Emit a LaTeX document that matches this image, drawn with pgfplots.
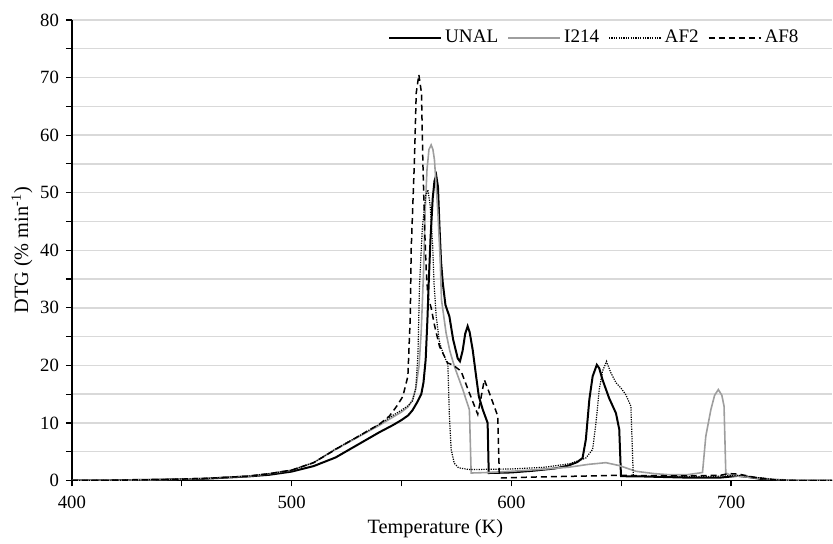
\documentclass[border=0pt]{standalone}
\usepackage{fontspec}
\setmainfont{Liberation Serif}
\usepackage{pgfplots}
\pgfplotsset{compat=1.18}
\usepackage{pgfplotstable}
\definecolor{gridgray}{HTML}{D9D9D9}
\definecolor{seriesgray}{HTML}{9E9E9E}

\pgfplotstableread{
T y
400 0
420 0.05
440 0.15
460 0.3
480 0.7
490 1.0
500 1.55
510 2.5
520 4.0
530 6.2
540 8.4
546 9.6
550 10.5
553 11.3
555 12.2
557 13.5
559 15.0
560 17
561 21
561.8 28
562.4 34.4
563.2 42
564.2 49
565 52
565.8 53
566.6 51
567.3 44
568 38
568.8 34.3
570 30.5
571.8 28.5
573.5 24.5
575.6 21.2
576.6 20.7
577.8 22.5
579 25.5
580.1 26.8
581 25.8
582.4 22.7
584 18
585.2 14.6
587 12.3
589.2 10.0
589.7 1.3
595 1.35
600 1.4
610 1.7
620 2.1
626 2.6
630 3.2
632.4 3.9
633.9 7.1
635.5 14.1
637 18.1
638.9 20.1
640 19.5
641.5 17.5
644.5 14.3
647.6 11.7
649.1 8.9
649.9 0.75
660 0.7
680 0.5
695 0.5
703 0.8
708 0.6
715 0.2
725 0
746 0
}\unal

\pgfplotstableread{
T y
400 0
420 0.05
440 0.15
460 0.35
480 0.75
490 1.2
500 1.8
510 3.1
520 5.4
530 7.5
540 9.6
546 11
550 11.9
553 12.8
555 14
556.5 16
558 20
559 26
560 36
560.8 47
561.6 54
562.5 57.5
563.5 58.3
564.3 57.5
565 55.7
566.5 47
567.6 38.4
568.2 31.4
570.3 25.6
572 22.5
574.1 19.8
577.9 15.8
580.9 12.3
581.7 1.3
590 1.4
600 1.6
612 1.9
626 2.3
635 2.8
643 3.1
649 2.6
656.7 1.6
665 1.2
672 1.0
680 1.0
685.5 1.3
687 1.4
688.5 7.7
690.8 12.3
692.5 14.8
694.2 15.8
695.8 14.8
696.8 12.9
697.6 1.3
700 0.9
705 0.7
710 0.5
720 0.2
730 0
746 0
}\itwo

\pgfplotstableread{
T y
400 0
420 0.05
440 0.15
460 0.35
480 0.75
490 1.2
500 1.8
510 3.1
520 5.5
530 7.6
540 9.8
546 11.3
550 12.2
553 13
555 13.8
556.5 16
557.5 22
558.2 34
559.5 44
561 49.5
562 50.5
563 48
564.2 40.7
564.8 34.3
565.8 28.5
567.3 24
569 22
571.1 20.1
571.8 11.2
572.6 5.4
574 3
576 2.2
580.9 1.9
600 2.0
615 2.3
626.4 2.9
633.9 3.9
637 5.4
638.5 10
640 15.8
641.5 19
643.3 20.7
645.3 18.7
647.6 17
650 16
652.1 14.9
654.4 12.9
655.5 0.75
670 0.7
690 0.7
705 0.9
712 0.5
720 0.15
730 0
746 0
}\aftwo

\pgfplotstableread{
T y
400 0
420 0.05
440 0.15
460 0.35
480 0.75
490 1.2
500 1.8
510 3.1
520 5.4
530 7.6
540 9.8
544.5 11.2
548 13
550.6 14.6
552.9 18.1
554 28.5
554.4 40
555.9 55.7
556.7 67.3
557.9 70.5
559.1 67.3
559.7 55.7
560.5 44
561.2 37
562 32
563.5 30
565 27
567.3 23.3
569.5 21.6
571 20.4
573.3 20.1
577.1 19
580.9 15.2
584.7 11.5
586 14
587.7 17.5
590 15.2
593.8 11.2
594.5 1.3
595.5 0.45
610 0.6
630 0.75
649 0.9
660 0.85
680 0.8
695 0.9
699 1.2
703.6 1.1
710 0.6
720 0.1
730 0
746 0
}\afeight

\begin{document}
\begin{tikzpicture}
\begin{axis}[
  width=380.5bp, height=230.5bp, scale only axis,
  xmin=400, xmax=746, ymin=0, ymax=80,
  axis lines*=left,
  axis line style={black, line width=0.85bp},
  xtick={400,500,600,700}, minor xtick={450,550,650},
  ytick={0,10,...,80}, minor ytick={5,15,...,75},
  ymajorgrids, yminorgrids,
  major grid style={color=gridgray, line width=0.7bp},
  minor grid style={color=gridgray, line width=0.7bp},
  tick align=outside,
  major tick length=3bp, minor tick length=3bp,
  tick style={black, line width=0.6bp},
  /pgf/number format/assume math mode=true,
  ticklabel style={font=\fontsize{9.4}{11}\selectfont, text=black},
  xticklabel style={yshift=-1.5bp},
  label style={font=\fontsize{10.2}{12}\selectfont},
  xlabel={Temperature (K)},
  ylabel={DTG (\% min\textsuperscript{-1})},
  xlabel style={at={(axis description cs:0.478,-0.114)}, anchor=base},
  ylabel style={at={(axis description cs:-0.0657,0.5)}, anchor=center},
  legend columns=4,
  legend style={at={(0.96,0.961)}, anchor=east, draw=none, fill=none,
    inner sep=0pt, outer sep=0pt,
    font=\fontsize{9.6}{11}\selectfont, nodes={inner sep=1.6bp}},
  legend image code/.code={\draw[#1] (0bp,0bp) -- (26bp,0bp);},
]
\addplot[black, line width=1bp] table[x=T,y=y]{\unal};
\addlegendentry{UNAL\hspace*{3bp}}
\addplot[seriesgray, line width=0.8bp] table[x=T,y=y]{\itwo};
\addlegendentry{I214\hspace*{3bp}}
\addplot[black, line width=0.6bp, dash pattern=on 0.6bp off 0.6bp] table[x=T,y=y]{\aftwo};
\addlegendentry{AF2\hspace*{3bp}}
\addplot[black, line width=0.75bp, dash pattern=on 3bp off 2bp] table[x=T,y=y]{\afeight};
\addlegendentry{AF8}
\end{axis}
\path ([xshift=-36bp,yshift=-28bp]current axis.south west) rectangle ([yshift=10bp]current axis.north east);
\end{tikzpicture}
\end{document}
